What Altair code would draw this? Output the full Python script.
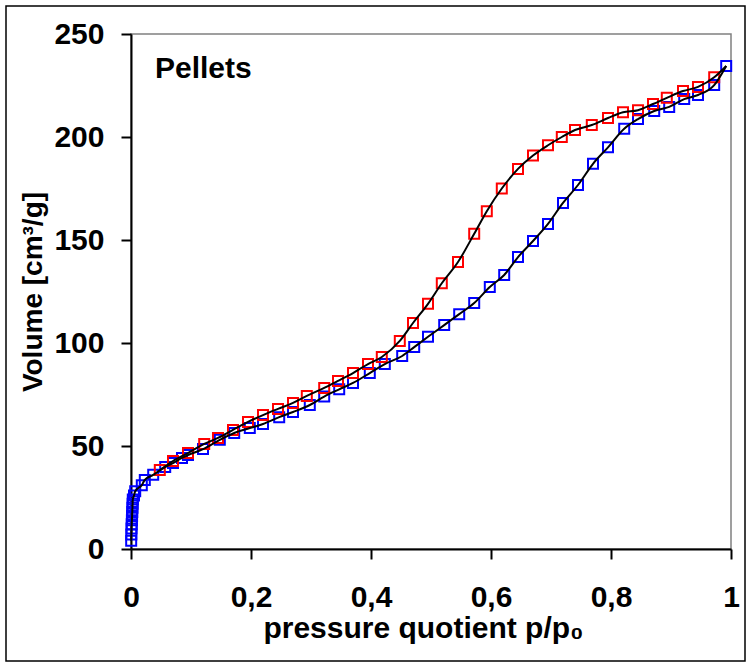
import altair as alt
import pandas as pd

# Adsorption branch (blue)
ads_x = [0.0003, 0.0006, 0.0009, 0.0012, 0.0015, 0.0018, 0.0021, 0.0024, 0.0027, 0.003,
         0.005, 0.007, 0.018, 0.023, 0.037, 0.057, 0.07, 0.085, 0.095, 0.12, 0.148, 0.172,
         0.198, 0.22, 0.247, 0.27, 0.298, 0.322, 0.347, 0.37, 0.398, 0.423, 0.452, 0.472,
         0.495, 0.522, 0.547, 0.572, 0.598, 0.622, 0.645, 0.67, 0.695, 0.72, 0.745, 0.77,
         0.795, 0.822, 0.845, 0.872, 0.897, 0.922, 0.945, 0.972, 0.992]
ads_y = [4, 7, 10, 12, 14, 16, 18, 20, 22, 24,
         26, 28, 31, 33.5, 36, 39.8, 41.7, 44.2, 45.6, 48.5, 53, 56.3,
         58.7, 60.7, 64, 66.5, 69.9, 74, 77.5, 80.6, 85.4, 89.8, 93.7, 98,
         103, 108.7, 114, 119.4, 127.2, 133, 141.7, 149.5, 157.8, 168, 176.7, 187,
         195, 204, 208.7, 212.6, 214.6, 218.4, 220.4, 225.2, 234.5]

# Desorption branch (red)
des_x = [0.048, 0.07, 0.095, 0.122, 0.145, 0.17, 0.195, 0.22, 0.245, 0.27, 0.293, 0.322,
         0.345, 0.37, 0.395, 0.418, 0.448, 0.47, 0.495, 0.518, 0.545, 0.572, 0.593, 0.618,
         0.645, 0.67, 0.695, 0.718, 0.74, 0.768, 0.795, 0.82, 0.845, 0.87, 0.893, 0.92,
         0.945, 0.972]
des_y = [38.3, 42.7, 46.6, 51, 53.9, 57.8, 61.7, 65, 68, 70.9, 74.3, 78.2,
         81.6, 85.4, 89.8, 93.2, 101, 109.7, 119, 129, 139.3, 153, 164, 175,
         184.5, 191, 196, 200, 203.4, 205.8, 209.2, 212, 213, 216, 219, 222.3,
         224.3, 229]

x_ticks = [0, 0.2, 0.4, 0.6, 0.8, 1]
y_ticks = [0, 50, 100, 150, 200, 250]

label_text = ["Pellets"]
label_x = [0.04]
label_y = [233]

FONT = "Liberation Sans"

ads = pd.DataFrame({"p": ads_x, "v": ads_y, "branch": "Adsorption"})
des = pd.DataFrame({"p": des_x, "v": des_y, "branch": "Desorption"})
des_line = pd.concat([des, pd.DataFrame({"p": [ads_x[-1]], "v": [ads_y[-1]], "branch": "Desorption"})])
lines = pd.concat([ads, des_line], ignore_index=True)
lines["i"] = range(len(lines))

x_scale = alt.Scale(domain=[0, 1], nice=False, zero=False)
y_scale = alt.Scale(domain=[0, 250], nice=False)

x_enc = alt.X("p:Q", scale=x_scale,
              axis=alt.Axis(values=x_ticks, title="pressure quotient p/p₀",
                            labelExpr="datum.value == 0 ? '0' : datum.value == 1 ? '1' : replace(format(datum.value, '.1f'), '.', ',')",
                            labelFlush=False, labelPadding=23, titlePadding=1,
                            titleFontSize=30, titleX=292))
y_enc = alt.Y("v:Q", scale=y_scale,
              axis=alt.Axis(values=y_ticks, title="Volume [cm³/g]", labelPadding=17,
                            labelFlush=False, titlePadding=6, titleFontSize=28))

ads_pts = alt.Chart(ads).mark_point(shape="square", filled=False, size=100,
                                    strokeWidth=2, color="#0000FF", opacity=1).encode(x=x_enc, y=y_enc)
des_pts = alt.Chart(des).mark_point(shape="square", filled=False, size=100,
                                    strokeWidth=2, color="#FF0000", opacity=1).encode(x=x_enc, y=y_enc)
curve = alt.Chart(lines).mark_line(color="black", strokeWidth=2, interpolate="monotone").encode(
    x=x_enc, y=y_enc, detail="branch:N", order="i:Q")

txt = alt.Chart(pd.DataFrame({"t": label_text, "x": label_x, "y": label_y})).mark_text(
    align="left", baseline="middle", font=FONT, fontSize=30, fontWeight="bold", color="black"
).encode(x=alt.X("x:Q", scale=x_scale), y=alt.Y("y:Q", scale=y_scale), text="t:N")

border = alt.Chart(pd.DataFrame({"a": [0]})).mark_rect(
    fill=None, stroke="black", strokeWidth=1.5
).encode(x=alt.value(-125), x2=alt.value(614), y=alt.value(-28), y2=alt.value(627))

chart = alt.layer(border, ads_pts, des_pts, curve, txt).properties(
    width=600, height=515,
    autosize=alt.AutoSizeParams(type="none"),
    padding={"left": 131, "top": 34, "right": 18, "bottom": 116},
).configure_view(
    stroke="#808080", strokeWidth=1.5
).configure_axis(
    grid=False, domainColor="black", domainWidth=2, tickColor="black", tickWidth=2,
    tickSize=10, labelFont=FONT, labelFontSize=30, labelFontWeight="bold", labelColor="black",
    titleFont=FONT, titleFontWeight="bold", titleColor="black"
)

chart.save("out.html", embed_options={"renderer": "svg", "actions": False})
